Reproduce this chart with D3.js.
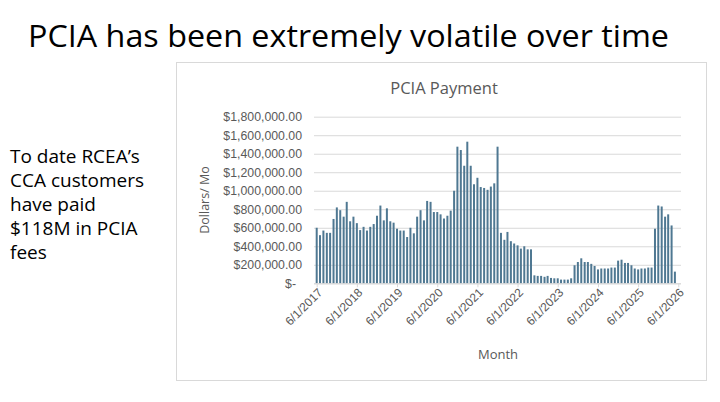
<!DOCTYPE html>
<html>
<head>
<meta charset="utf-8">
<script src="https://cdn.jsdelivr.net/npm/d3@7/dist/d3.min.js"></script>
<style>
    body { margin: 0; background: #fff; }
    svg  { display: block; font-family: "Open Sans", "Liberation Sans", Arial, sans-serif; }
</style>
</head>
<body>
<svg id="slide" width="720" height="402"></svg>
<script>
// monthly PCIA payments, Jun 2017 onward (dollars)
var firstMonth = "2017-06-01";
var payments = [
    600000, 520000, 570000, 545000, 545000, 695000, 820000, 790000, 720000, 880000, 670000, 720000,
    650000, 575000, 610000, 570000, 610000, 640000, 730000, 840000, 680000, 810000, 670000, 655000,
    590000, 570000, 570000, 500000, 600000, 540000, 720000, 790000, 680000, 890000, 880000, 770000,
    770000, 745000, 700000, 730000, 785000, 1000000, 1476000, 1440000, 1270000, 1530000, 1270000, 1070000,
    1140000, 1040000, 1030000, 1010000, 1045000, 1080000, 1476000, 545000, 470000, 555000, 455000, 430000,
    410000, 375000, 400000, 367000, 367000, 86000, 80000, 80000, 70000, 80000, 58000, 54000,
    54000, 40000, 40000, 40000, 54000, 195000, 230000, 270000, 230000, 230000, 210000, 187000,
    150000, 160000, 160000, 160000, 170000, 170000, 245000, 255000, 220000, 220000, 195000, 160000,
    150000, 160000, 160000, 170000, 170000, 590000, 840000, 830000, 720000, 745000, 625000, 126000
];
var yTicks      = [0, 200000, 400000, 600000, 800000, 1000000, 1200000, 1400000, 1600000, 1800000];
var xTickLabels = ["6/1/2017", "6/1/2018", "6/1/2019", "6/1/2020", "6/1/2021",
                   "6/1/2022", "6/1/2023", "6/1/2024", "6/1/2025", "6/1/2026"];
var noteLines   = ["To date RCEA\u2019s", "CCA customers", "have paid", "$118M in PCIA", "fees"];

var svg  = d3.select("#slide");
var grey = "#595959";

svg.append("text")
    .attr("x", 28).attr("y", 47)
    .attr("textLength", 641).attr("lengthAdjust", "spacingAndGlyphs")
    .style("font-size", "31.5px").style("fill", "#000")
    .text("PCIA has been extremely volatile over time");

svg.append("text")
    .attr("x", 10).attr("y", 163)
    .style("font-size", "19px").style("fill", "#000")
    .selectAll("tspan").data(noteLines).enter().append("tspan")
    .attr("x", 10).attr("dy", function(d, i) { return i ? 24 : 0; })
    .text(function(d) { return d; });

// chart frame
svg.append("rect")
    .attr("x", 176.5).attr("y", 62.5).attr("width", 530).attr("height", 318)
    .style("fill", "#fff").style("stroke", "#d9d9d9");

svg.append("text")
    .attr("x", 444).attr("y", 94).attr("text-anchor", "middle")
    .style("font-size", "16.5px").style("fill", grey)
    .text("PCIA Payment");

var parseTick = d3.timeParse("%m/%d/%Y");
var start = d3.timeParse("%Y-%m-%d")(firstMonth);
var months = payments.map(function(v, i) { return d3.timeMonth.offset(start, i); });

var x = d3.scaleTime()
    .domain([parseTick(xTickLabels[0]), parseTick(xTickLabels[xTickLabels.length - 1])])
    .range([316.7, 678.3]);
var y = d3.scaleLinear().domain([0, 1800000]).range([283.3, 116.7]);

var plotLeft = 314, plotRight = 681;

var money = d3.format("$,.2f");
var yAxis = svg.append("g")
    .attr("transform", "translate(" + plotLeft + ",0)")
    .call(d3.axisLeft(y).tickValues(yTicks).tickSize(-(plotRight - plotLeft)).tickPadding(12)
        .tickFormat(function(d) { return d === 0 ? "$-" : money(d); }));
yAxis.select(".domain").remove();
yAxis.selectAll(".tick line").style("stroke", "#d9d9d9");
yAxis.selectAll(".tick text")
    .style("font-size", "12.3px").style("fill", grey).style("font-family", "inherit")
    .attr("dx", function(d) { return d === 0 ? -6 : 0; });

svg.append("text")
    .attr("transform", "translate(209,200) rotate(-90)").attr("text-anchor", "middle")
    .style("font-size", "12.5px").style("fill", grey)
    .text("Dollars/ Mo");

svg.append("g").selectAll("rect").data(payments).enter().append("rect")
    .attr("x", function(d, i) { return x(months[i]) - 1; })
    .attr("width", 2)
    .attr("y", function(d) { return y(d); })
    .attr("height", function(d) { return y(0) - y(d); })
    .style("fill", "#4f7892");

var xAxis = svg.append("g")
    .attr("transform", "translate(0," + y(0) + ")")
    .call(d3.axisBottom(x).tickValues(xTickLabels.map(parseTick)).tickSize(4).tickSizeOuter(0)
        .tickFormat(d3.timeFormat("%-m/%-d/%Y")));
xAxis.select(".domain").attr("d", "M" + plotLeft + ",0.5H" + plotRight).style("stroke", "#d9d9d9");
xAxis.selectAll(".tick line").style("stroke", "#d9d9d9");
xAxis.selectAll(".tick text")
    .style("font-size", "12px").style("fill", grey).style("font-family", "inherit")
    .attr("text-anchor", "end")
    .attr("transform", "translate(3,7) rotate(-45)")
    .attr("dy", "0.35em").attr("y", 0).attr("x", 0);

svg.append("text")
    .attr("x", 498).attr("y", 359).attr("text-anchor", "middle")
    .style("font-size", "13px").style("fill", grey)
    .text("Month");
</script>
</body>
</html>
